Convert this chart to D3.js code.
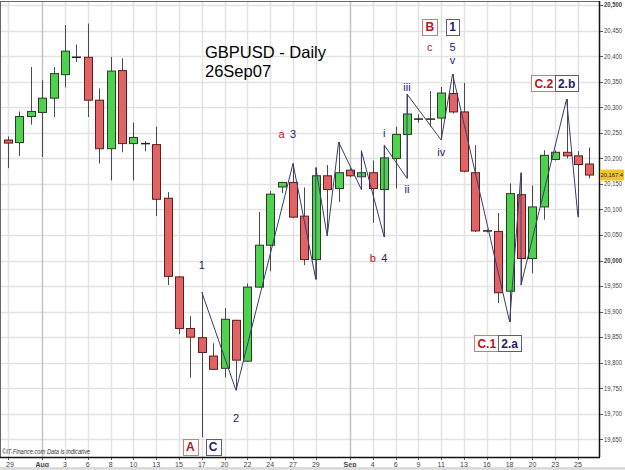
<!DOCTYPE html>
<html><head><meta charset="utf-8">
<script src="https://cdn.jsdelivr.net/npm/d3@7"></script>
<style>html,body{margin:0;padding:0;background:#fff;overflow:hidden}svg{display:block;font-family:"Liberation Sans",Arial,sans-serif}</style>
</head><body><svg id="c" width="625" height="470"></svg>
<script>
// ---- data ----
const dayLabels = ["29","30","31","Aug","2","3","5","6","7","8","9","10","12","13","14","15","16","17","19","20","21","22","23","24","26","27","28","29","30","31","Sep","3","4","5","6","7","9","10","11","12","13","14","16","17","18","19","20","21","23","24","25","26"];
const tickIdx = [0,3,5,7,9,11,13,15,17,19,21,23,25,27,30,32,34,36,38,40,42,44,46,48,50];
const monthIdx = [3,30];
const openV  = [20236,20231,20282,20290,20318,20364,20398,20398,20314,20219,20372,20229,20229,20227,20122,19968,19867,19849,19813,19789,19883,19803,19948,20030,20144,20153,20087,20002,20166,20141,20177,20164,20172,20139,20200,20247,20277,20277,20279,20327,20291,20172,20058,20057,19940,20129,20004,20105,20198,20212,20205,20189];
const highV  = [20243,20292,20379,20353,20379,20461,20423,20464,20337,20399,20396,20270,20234,20262,20134,19969,19891,19938,19838,19907,19884,19955,20095,20136,20154,20190,20143,20182,20187,20232,20181,20215,20196,20226,20262,20326,20286,20332,20340,20365,20348,20226,20061,20093,20151,20172,20147,20216,20216,20316,20214,20221];
const lowV   = [20181,20205,20266,20203,20281,20339,20389,20281,20190,20157,20212,20157,20214,20087,19952,19856,19771,19654,19786,19771,19746,19802,19947,19979,20132,20083,19991,19963,20048,20115,20163,20139,20074,20046,20141,20161,20270,20262,20236,20288,20173,20056,20055,19917,19880,19952,19975,20080,20196,20200,20085,20161];
const closeV = [20230,20282,20292,20318,20366,20410,20397,20314,20219,20371,20229,20241,20228,20120,19969,19867,19850,19820,19787,19885,19805,19948,20030,20130,20153,20085,20002,20166,20139,20172,20166,20172,20141,20201,20247,20287,20277,20276,20328,20291,20175,20058,20058,19937,20131,20004,20105,20206,20212,20205,20188,20167.4];
const lastPrice = 20167.4;
const yTicks = d3.range(19650, 20501, 50);
// wave path: [bar index, 'H'|'L']
const wave = [[17,"H"],[20,"L"],[25,"H"],[27,"L"],[27,"H"],[28,"L"],[29,"H"],[31,"L"],[31,"H"],[33,"L"],[33,"H"],[35,"L"],[35,"H"],[38,"L"],[39,"H"],[44,"L"],[45,"H"],[45,"L"],[49,"H"],[50,"L"]];
// plain wave labels: [text, bar, price, colour key]
const waveLabels = [["1",17,19991,"n"],["2",20,19692,"n"],["a",24,20247,"r"],["3",25,20247,"n"],["b",32,20005,"r"],["4",33,20005,"n"],["i",33,20249,"n"],["ii",35,20141,"n"],["iii",35,20340,"n"],["iv",38,20213,"n"],["v",39,20392,"n"],["5",39,20418,"n"],["c",37,20418,"r"]];
// boxed labels: [text, bar, price, colour key]
const boxLabels = [["B",37,20457,"r"],["1",39,20457,"n"],["C.2",47,20347,"r"],["2.b",49,20347,"n"],["C.1",42,19838,"r"],["2.a",44,19838,"n"],["A",16,19635,"r"],["C",18,19635,"n"]];
const title1 = "GBPUSD - Daily", title2 = "26Sep07";
const credit = "©IT-Finance.com  Data is indicative";

// ---- drawing ----
const svg = d3.select("#c");
const L = 1, T = 2, R = 599, B = 457;
const x = d3.scalePoint().domain(d3.range(dayLabels.length)).range([8, 589.4]);
const y = d3.scaleLinear().domain([19650, 20500]).range([439.3, 5.2]);
const col = {n:"#1d1d6b", r:"#b5171c"};
const boxStroke = {n:"#5a5a8c", r:"#d07a7a"};

svg.append("rect").attr("width",625).attr("height",470).attr("fill","#fff");
const g = svg.append("g");
// grid
g.selectAll(".hg").data(yTicks).join("line")
 .attr("x1",L).attr("x2",R).attr("y1",d=>Math.round(y(d))+0.5).attr("y2",d=>Math.round(y(d))+0.5)
 .attr("stroke","#e3e3e3").attr("stroke-width",1.5);
g.selectAll(".vg").data(tickIdx).join("line")
 .attr("x1",d=>Math.round(x(d))+0.5).attr("x2",d=>Math.round(x(d))+0.5).attr("y1",T).attr("y2",B)
 .attr("stroke",d=>monthIdx.includes(d)?"#c4c4c4":"#e3e3e3").attr("stroke-width",1.5);

// title
g.append("text").attr("x",205).attr("y",58).attr("font-size",16.5).attr("fill","#000").text(title1);
g.append("text").attr("x",205).attr("y",77).attr("font-size",16.5).attr("fill","#000").text(title2);

// candles
const idx = d3.range(openV.length);
const bw = 8;
g.selectAll(".wick").data(idx).join("line")
 .attr("x1",i=>Math.round(x(i))+0.5).attr("x2",i=>Math.round(x(i))+0.5)
 .attr("y1",i=>y(highV[i])).attr("y2",i=>y(lowV[i]))
 .attr("stroke","#4a4a4a").attr("stroke-width",1);
const isDoji = i => Math.abs(y(openV[i]) - y(closeV[i])) < 1.5;
g.selectAll(".body").data(idx.filter(i=>!isDoji(i))).join("rect")
 .attr("x",i=>Math.round(x(i))-bw/2+0.5).attr("width",bw)
 .attr("y",i=>y(Math.max(openV[i],closeV[i]))).attr("height",i=>Math.abs(y(openV[i])-y(closeV[i])))
 .attr("fill",i=>closeV[i]>=openV[i]?"#4ed24e":"#e06466")
 .attr("stroke",i=>closeV[i]>=openV[i]?"#2b3a2b":"#5e1e1e").attr("stroke-width",1);
g.selectAll(".doji").data(idx.filter(isDoji)).join("line")
 .attr("x1",i=>Math.round(x(i))-bw/2).attr("x2",i=>Math.round(x(i))+bw/2+1)
 .attr("y1",i=>y(openV[i])).attr("y2",i=>y(openV[i]))
 .attr("stroke","#222").attr("stroke-width",1.5);

// wave line
const line = d3.line().x(d=>x(d[0])).y(d=>y(d[1]==="H"?highV[d[0]]:lowV[d[0]]));
g.append("path").attr("d",line(wave)).attr("fill","none").attr("stroke","#3c3c6e").attr("stroke-width",1);

// plain labels
g.selectAll(".wl").data(waveLabels).join("text")
 .attr("x",d=>x(d[1])).attr("y",d=>y(d[2])).attr("dy","0.36em")
 .attr("text-anchor","middle").attr("font-size",11).attr("fill",d=>col[d[3]]).text(d=>d[0]);

// boxed labels
const bl = g.selectAll(".bl").data(boxLabels).join("g");
bl.append("text").attr("x",d=>x(d[1])).attr("y",d=>y(d[2])).attr("dy","0.36em")
 .attr("text-anchor","middle").attr("font-size",12).attr("font-weight","bold")
 .attr("fill",d=>col[d[3]]).text(d=>d[0]);
bl.each(function(d){
  const t = d3.select(this).select("text"); const bb = t.node().getBBox();
  d3.select(this).insert("rect","text")
   .attr("x",Math.round(bb.x-3)+0.5).attr("y",Math.round(y(d[2])-8)+0.5)
   .attr("width",Math.round(bb.width+6)).attr("height",16)
   .attr("fill","#fff").attr("stroke",boxStroke[d[3]]).attr("stroke-width",1);
});

// frame
svg.append("line").attr("x1",0).attr("x2",R).attr("y1",T-0.5).attr("y2",T-0.5).attr("stroke","#666").attr("stroke-width",1);
svg.append("line").attr("x1",L-0.5).attr("x2",L-0.5).attr("y1",T).attr("y2",B).attr("stroke","#666").attr("stroke-width",1);
// right axis
svg.append("line").attr("x1",R+0.5).attr("x2",R+0.5).attr("y1",T-1).attr("y2",B).attr("stroke","#111").attr("stroke-width",1.5);
const ya = svg.append("g");
ya.selectAll("line").data(yTicks).join("line")
 .attr("x1",R+1).attr("x2",R+4).attr("y1",d=>Math.round(y(d))+0.5).attr("y2",d=>Math.round(y(d))+0.5)
 .attr("stroke","#555");
ya.selectAll("text").data(yTicks).join("text")
 .attr("x",R+5).attr("y",d=>y(d)).attr("dy","0.35em").attr("font-size",6.5)
 .attr("textLength",18).attr("lengthAdjust","spacingAndGlyphs")
 .attr("font-weight",d=>d%500===0?"bold":"normal").attr("fill","#444").text(d=>d3.format(",")(d));
// last price tag
svg.append("rect").attr("x",R+1).attr("y",y(lastPrice)-5.5).attr("width",24).attr("height",11).attr("fill","#f3c431");
svg.append("text").attr("x",R+1.5).attr("y",y(lastPrice)).attr("dy","0.35em").attr("font-size",5.8)
 .attr("fill","#222").text(d3.format(",.1f")(lastPrice));

// bottom axis
svg.append("line").attr("x1",0).attr("x2",R+1).attr("y1",B+0.5).attr("y2",B+0.5).attr("stroke","#111").attr("stroke-width",1.5);
const xa = svg.append("g");
xa.selectAll("line").data(tickIdx).join("line")
 .attr("x1",d=>Math.round(x(d))+0.5).attr("x2",d=>Math.round(x(d))+0.5).attr("y1",B+1).attr("y2",B+3).attr("stroke","#555");
xa.selectAll("text").data(tickIdx).join("text")
 .attr("x",d=>x(d)+(d===0?2:0)).attr("y",B+8).attr("dy","0.35em").attr("text-anchor","middle").attr("font-size",7)
 .attr("font-weight",d=>monthIdx.includes(d)?"bold":"normal").attr("fill","#444").text(d=>dayLabels[d]);
svg.append("text").attr("x",2).attr("y",B-3).attr("font-size",6.5).attr("font-style","italic")
 .attr("textLength",88).attr("lengthAdjust","spacingAndGlyphs").attr("fill","#333").text(credit);
svg.append("rect").attr("x",0).attr("y",467).attr("width",625).attr("height",3).attr("fill","#dcdcdc");
</script></body></html>
